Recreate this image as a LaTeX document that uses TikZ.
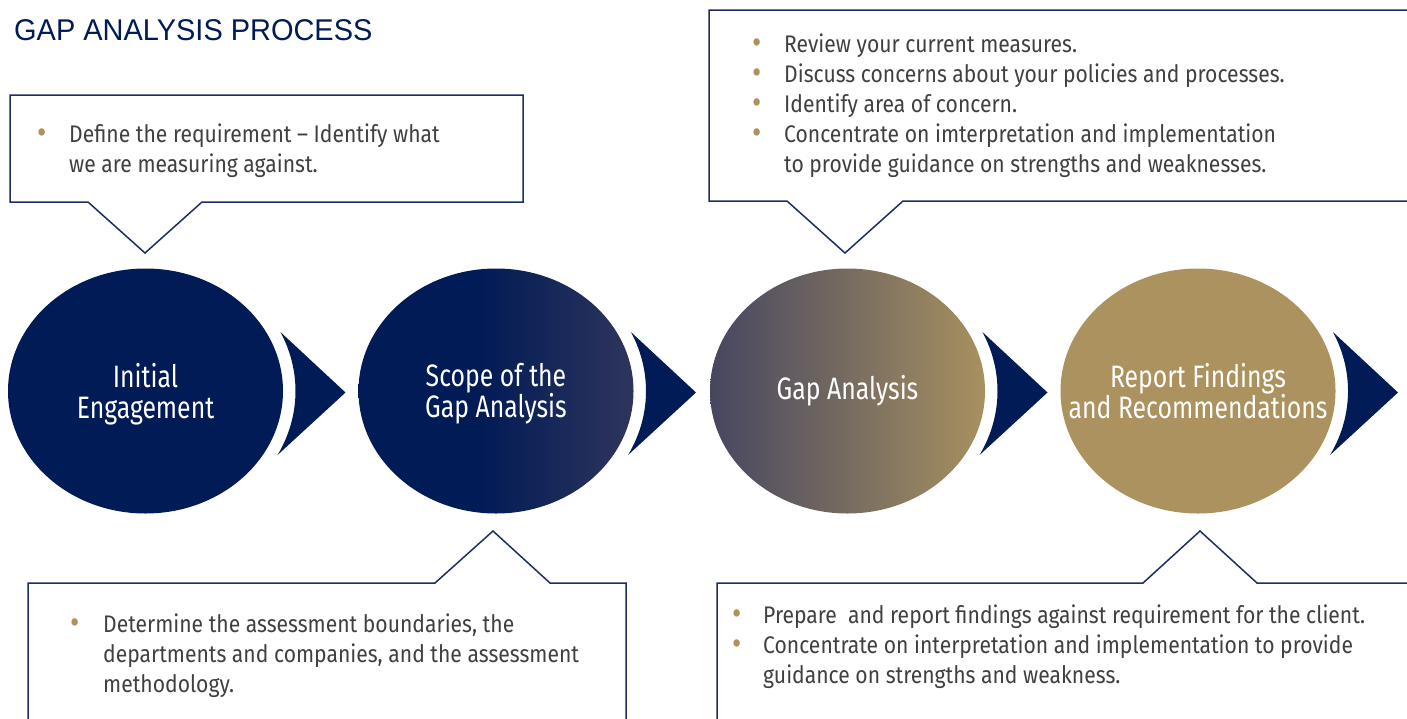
\documentclass[tikz,border=0pt]{standalone}
\usepackage{fontspec}
\setmainfont{Fira Sans}[FakeStretch=0.88]
\newfontfamily\circfont{Fira Sans}[FakeStretch=0.80]
\newfontfamily\titlefont{Liberation Sans}[FakeStretch=0.965]
\usetikzlibrary{shapes.geometric,calc}
\definecolor{navy}{RGB}{1,27,86}
\definecolor{navytwo}{RGB}{46,53,92}
\definecolor{gold}{RGB}{171,146,94}
\definecolor{greyleft}{RGB}{70,70,96}
\definecolor{goldright}{RGB}{168,145,96}
\definecolor{boxline}{RGB}{28,46,98}
\definecolor{textgrey}{RGB}{64,64,64}
\pgfdeclarehorizontalshading{cirtwo}{100bp}{color(0bp)=(navy); color(25bp)=(navy); color(47bp)=(navy); color(75bp)=(navytwo); color(100bp)=(navytwo)}
\pgfdeclarehorizontalshading{cirthree}{100bp}{color(0bp)=(greyleft); color(25bp)=(greyleft); color(75bp)=(goldright); color(100bp)=(goldright)}
\newcommand\bul[1]{\makebox[#1][l]{\raisebox{-0.06em}{\scalebox{1.35}{\textcolor{gold}{•}}}}}
\newenvironment{lines}{\begin{tabular}[t]{@{}l@{}}}{\end{tabular}}
\begin{document}
\begin{tikzpicture}[x=1pt,y=-1pt,
  circ/.style={ellipse, minimum width=275pt, minimum height=245pt, inner sep=0pt},
  ctext/.style={inner sep=0pt, text=white, align=center,
    font=\circfont\fontsize{31}{31}\selectfont},
  callout/.style={draw=boxline, line width=1.5pt, fill=white, line join=miter},
  txt/.style={anchor=base west, inner sep=0pt, text=textgrey,
    font=\fontsize{24}{30}\selectfont}]
\useasboundingbox (0,0) rectangle (1407,718);
\clip (0,0) rectangle (1407,718);
\fill[white] (0,0) rectangle (1407,718);

% title
\node[anchor=base west, inner sep=0pt, text=navy,
  font=\titlefont\fontsize{30}{36}\selectfont] (title) at (14,40) {GAP ANALYSIS PROCESS};

% circles
\node[circ, fill=navy] (c1) at (145.5,391) {};
\node[circ, shade, shading=cirtwo] (c2) at (496,391) {};
\node[circ, shade, shading=cirthree] (c3) at (847.5,391) {};
\node[circ, fill=gold] (c4) at (1198,391) {};
\node[ctext] (l1) at ([yshift=-3pt]c1.center) {Initial\\Engagement};
\node[ctext] (l2) at ([yshift=-3pt]c2.center) {Scope of the\\Gap Analysis};
\node[ctext] (l3) at (c3.center) {Gap Analysis};
\node[ctext] (l4) at (c4.center) {Report Findings\\and Recommendations};

% chevrons
\foreach \cx in {145.5,496,847.5,1198}{
  \fill[navy] (\cx+200,392.5) -- plot[domain=28.3:-25.9, samples=40]
    ({\cx+150*cos(\x)},{391+135*sin(\x)}) -- cycle;
}

% callouts
\draw[callout] (10,95) -- (523,95) -- (523,202) -- (202,202) -- (145,253)
  -- (88,202) -- (10,202) -- cycle;
\draw[callout] (709,10) -- (1412,10) -- (1412,201) -- (903,201) -- (845,253)
  -- (787,201) -- (709,201) -- cycle;
\draw[callout] (28,725) -- (28,583) -- (435,583) -- (493,531) -- (550,583)
  -- (626,583) -- (626,725);
\draw[callout] (717,725) -- (717,583) -- (1143,583) -- (1200,531) -- (1257,583)
  -- (1412,583);

% texts
\node[txt] (t1) at (37,142) {\begin{lines}
  \bul{32pt}Define the requirement – Identify what\\
  \hspace*{32pt}we are measuring against.\end{lines}};
\node[txt] (t2) at (752,52) {\begin{lines}
  \bul{32pt}Review your current measures.\\
  \bul{32pt}Discuss concerns about your policies and processes.\\
  \bul{32pt}Identify area of concern.\\
  \bul{32pt}Concentrate on imterpretation and implementation\\
  \hspace*{32pt}to provide guidance on strengths and weaknesses.\end{lines}};
\node[txt] (t3) at (70,632) {\begin{lines}
  \bul{33pt}Determine the assessment boundaries, the\\
  \hspace*{33pt}departments and companies, and the assessment\\
  \hspace*{33pt}methodology.\end{lines}};
\node[txt] (t4) at (732,623) {\begin{lines}
  \bul{31pt}Prepare\ \ and report findings against requirement for the client.\\
  \bul{31pt}Concentrate on interpretation and implementation to provide\\
  \hspace*{31pt}guidance on strengths and weakness.\end{lines}};
\end{tikzpicture}
\end{document}
